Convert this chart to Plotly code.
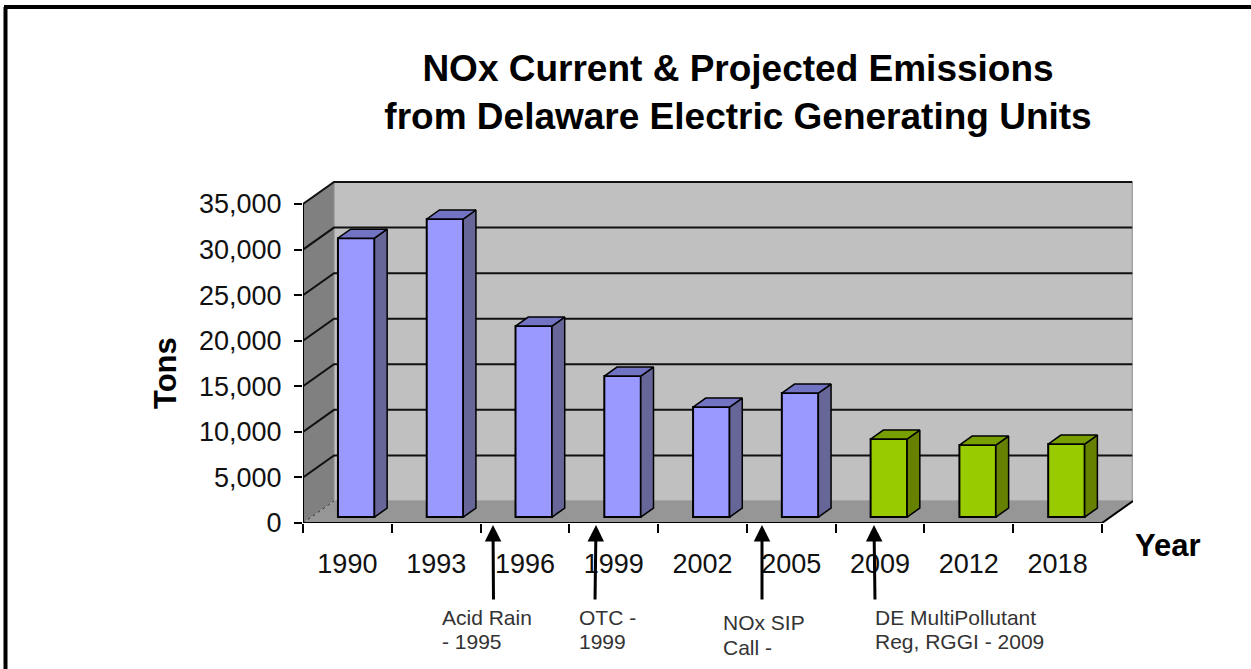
import plotly.graph_objects as go

years = ["1990", "1993", "1996", "1999", "2002", "2005", "2009", "2012", "2018"]
current_tons = [30600, 32700, 20950, 15470, 12070, 13600]
projected_tons = [8560, 7900, 8010]
y_ticks = [0, 5000, 10000, 15000, 20000, 25000, 30000, 35000]
note_lines = ["Acid Rain", "- 1995", "OTC -", "1999", "NOx SIP", "Call -", "DE MultiPollutant", "Reg, RGGI - 2009"]

# Canvas geometry in pixels
W, H = 1251, 669
L, R, T, B = 303, 1133, 181, 523
CAT_PX = 88.78
TON_PX = 319 / 35000
DX = 31 / CAT_PX          # depth offset in category units
DY = 22 / TON_PX          # depth offset in tons
n = len(years)

def px(p): return (p - L) / (R - L)
def py(p): return (B - p) / (B - T)

FRONT, BACK = 0.27, 0.68  # bar depth, as fraction of the floor depth
BAR_W = 36.5 / CAT_PX
x_shift = FRONT * DX + 0.005

fig = go.Figure()
shapes = []

def poly(pts, fill, line=None, lw=0, dash=None, layer="below"):
    d = "M " + " L ".join(f"{x},{y}" for x, y in pts)
    if fill:
        d += " Z"
    shapes.append(dict(type="path", xref="x", yref="y", path=d, fillcolor=fill or "rgba(0,0,0,0)",
                       line=dict(color=line or "rgba(0,0,0,0)", width=lw, dash=dash or "solid"), layer=layer))

top = y_ticks[-1]
# walls and floor
poly([(0, 0), (DX, DY), (DX, top + DY), (0, top)], "#808080")
poly([(DX, DY), (n + DX - 0.008, DY), (n + DX - 0.008, top + DY), (DX, top + DY)], "#C0C0C0", "#8a8a8a", 1)
poly([(0, 0), (DX, DY), (n + DX, DY), (n, 0)], "#969696")
# gridlines from the axis ticks
for v in y_ticks[1:]:
    poly([(0, v), (DX, v + DY), (n + DX - 0.008, v + DY)], None, "#111111", 2)
poly([(0, 0), (DX, DY)], None, "#333333", 1, "dot")

all_tons = current_tons + projected_tons
base = FRONT * DY
centers = [i + 0.5 + x_shift for i in range(n)]

fig.add_trace(go.Bar(x=centers[:6], y=current_tons, base=base, width=BAR_W,
                     marker=dict(color="#9999FF", line=dict(color="#000000", width=2)), name="Current"))
fig.add_trace(go.Bar(x=centers[6:], y=projected_tons, base=base, width=BAR_W,
                     marker=dict(color="#99CC00", line=dict(color="#000000", width=2)), name="Projected"))

ddx = (BACK - FRONT) * DX
ddy = (BACK - FRONT) * DY
for i, v in enumerate(all_tons):
    side, roof = ("#666699", "#7373C4") if i < 6 else ("#668000", "#779F00")
    xr = centers[i] + BAR_W / 2
    xl = centers[i] - BAR_W / 2
    yt = base + v
    fig.add_trace(go.Scatter(x=[xr, xr + ddx, xr + ddx, xr, xr], y=[base, base + ddy, yt + ddy, yt, base],
                             fill="toself", fillcolor=side, mode="lines", line=dict(color="#000000", width=1.5),
                             hoverinfo="skip"))
    fig.add_trace(go.Scatter(x=[xl, xl + ddx, xr + ddx, xr, xl], y=[yt, yt + ddy, yt + ddy, yt, yt],
                             fill="toself", fillcolor=roof, mode="lines", line=dict(color="#000000", width=1.5),
                             hoverinfo="skip"))

# front axis lines
fig.add_trace(go.Scatter(x=[0, 0, n, n + DX], y=[top, 0, 0, DY], mode="lines", cliponaxis=False,
                         line=dict(color="#000000", width=2), hoverinfo="skip"))

# outer frame
for x0, y0, x1, y1 in [(4, 7, W, 7), (5.5, 7, 5.5, H)]:
    shapes.append(dict(type="line", xref="paper", yref="paper", x0=px(x0), y0=py(y0), x1=px(x1), y1=py(y1),
                       line=dict(color="#000000", width=4)))

annotations = []
note_x = [440, 440, 577, 577, 721, 721, 873, 873]
note_y = [617, 641, 617, 641, 622, 647, 617, 641]
for text, xp, yp in zip(note_lines, note_x, note_y):
    annotations.append(dict(text=text, xref="paper", yref="paper", x=px(xp), y=py(yp), xanchor="left", yanchor="middle",
                            align="left", showarrow=False, font=dict(family="Liberation Sans", size=21, color="#333333")))
for x_tip, x_base in [(493, 493.5), (596, 595), (762, 762), (874, 875)]:
    annotations.append(dict(text="", xref="paper", yref="paper", x=px(x_tip), y=py(525), axref="pixel", ayref="pixel",
                            ax=x_base - x_tip, ay=76, showarrow=True, arrowhead=2, arrowsize=1.1, arrowwidth=3,
                            arrowcolor="#000000"))
annotations.append(dict(text="<b>Year</b>", xref="paper", yref="paper", x=px(1168), y=py(545), showarrow=False,
                        xanchor="center", yanchor="middle",
                        font=dict(family="Liberation Sans", size=31, color="#000000")))
annotations.append(dict(text="<b>Tons</b>", xref="paper", yref="paper", x=px(165), y=py(373), showarrow=False,
                        xanchor="center", yanchor="middle", textangle=-90,
                        font=dict(family="Liberation Sans", size=31, color="#000000")))

fig.update_layout(
    width=W, height=H, autosize=False, showlegend=False, barmode="overlay",
    paper_bgcolor="#FFFFFF", plot_bgcolor="#FFFFFF",
    margin=dict(l=L, r=W - R, t=T, b=H - B, pad=0),
    title=dict(text="<b>NOx Current &amp; Projected Emissions<br>from Delaware Electric Generating Units</b>",
               x=738 / W, xanchor="center", y=1 - 81 / H, yanchor="middle",
               font=dict(family="Liberation Sans", size=37, color="#000000")),
    xaxis=dict(range=[0, n + DX], tickmode="array", tickvals=[i + 0.5 for i in range(n)], ticktext=years,
               ticks="", showgrid=False, zeroline=False, showline=False, ticklabelstandoff=22,
               tickfont=dict(family="Liberation Sans", size=27, color="#111111"),
               minor=dict(tickmode="array", tickvals=list(range(n + 1)), ticks="outside", ticklen=9,
                          tickwidth=1.5, tickcolor="#000000", showgrid=False)),
    yaxis=dict(range=[0, (B - T) / TON_PX], tickmode="array", tickvals=y_ticks, tickformat=",",
               ticks="outside", ticklen=8, tickwidth=1.5, tickcolor="#000000",
               showgrid=False, zeroline=False, showline=False, ticklabelstandoff=7,
               tickfont=dict(family="Liberation Sans", size=27, color="#111111")),
    shapes=shapes, annotations=annotations,
)

fig.write_html("out.html", config=dict(displayModeBar=False), post_script="document.body.style.margin='0';")
